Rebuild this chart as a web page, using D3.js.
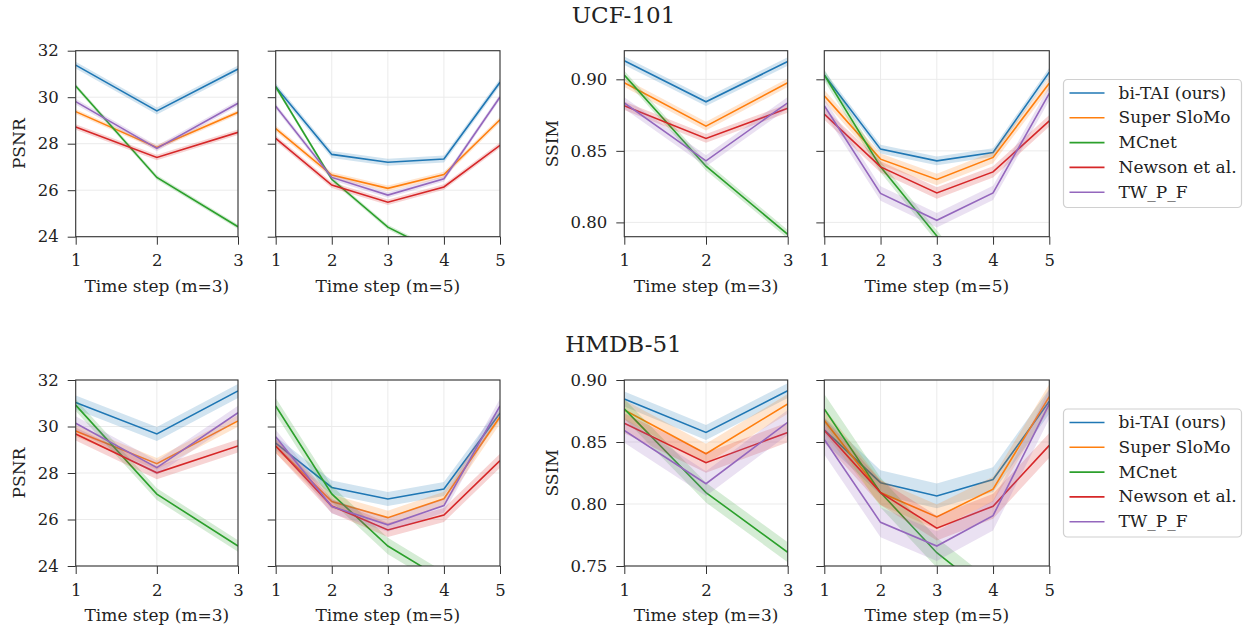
<!DOCTYPE html>
<html>
<head>
<meta charset="utf-8">
<script src="https://cdn.jsdelivr.net/npm/d3@7"></script>
<style>
    body { margin: 0; background: #fff; }
    svg { font-family: "DejaVu Serif", serif; }
    .grid line { stroke: #ebebeb; stroke-width: 1; }
    .axis path, .axis line { stroke: #333; }
    .axis text { font-size: 16.5px; fill: #222; font-family: "DejaVu Serif", serif; }
</style>
</head>
<body>
<svg id="main-svg" width="1247" height="630"></svg>
<script>
// series names and data
let methods = ["bi-TAI (ours)", "Super SloMo", "MCnet", "Newson et al.", "TW_P_F"];
let stepsM3 = [1, 2, 3];
let stepsM5 = [1, 2, 3, 4, 5];

let psnrTicks = [24, 26, 28, 30, 32];
let ucfSsimTicks = [0.80, 0.85, 0.90];
let hmdbSsimTicks = [0.75, 0.80, 0.85, 0.90];

// UCF-101
let ucfPsnrM3 = [
    [31.38, 29.41, 31.21],
    [29.38, 27.84, 29.35],
    [30.48, 26.55, 24.43],
    [28.72, 27.41, 28.49],
    [29.81, 27.80, 29.74]
];
let ucfPsnrM3Err = [0.15, 0.1, 0.1, 0.12, 0.12];

let ucfPsnrM5 = [
    [30.45, 27.54, 27.20, 27.34, 30.64],
    [28.65, 26.65, 26.08, 26.67, 29.03],
    [30.45, 26.47, 24.41, 23.20, 22.00],
    [28.23, 26.22, 25.48, 26.14, 27.93],
    [29.61, 26.55, 25.79, 26.49, 30.01]
];
let ucfPsnrM5Err = [0.15, 0.12, 0.1, 0.12, 0.12];

let ucfSsimM3 = [
    [0.9130, 0.8843, 0.9124],
    [0.8976, 0.8673, 0.8976],
    [0.9030, 0.8393, 0.7917],
    [0.8815, 0.8587, 0.8797],
    [0.8835, 0.8430, 0.8836]
];
let ucfSsimM3Err = [0.003, 0.003, 0.003, 0.003, 0.004];

let ucfSsimM5 = [
    [0.9030, 0.8512, 0.8430, 0.8489, 0.9050],
    [0.8885, 0.8442, 0.8300, 0.8454, 0.8972],
    [0.9030, 0.8388, 0.7905, 0.7420, 0.6900],
    [0.8757, 0.8388, 0.8206, 0.8353, 0.8710],
    [0.8815, 0.8202, 0.8015, 0.8206, 0.8902]
];
let ucfSsimM5Err = [0.003, 0.004, 0.004, 0.004, 0.005];

// HMDB-51
let hmdbPsnrM3 = [
    [31.03, 29.68, 31.53],
    [29.81, 28.40, 30.24],
    [30.92, 27.09, 24.86],
    [29.68, 28.01, 29.16],
    [30.14, 28.23, 30.59]
];
let hmdbPsnrM3Err = [0.3, 0.25, 0.25, 0.28, 0.3];

let hmdbPsnrM5 = [
    [29.28, 27.38, 26.88, 27.31, 30.57],
    [29.16, 26.77, 26.08, 26.89, 30.42],
    [30.88, 27.10, 24.86, 23.40, 22.00],
    [29.16, 26.58, 25.55, 26.19, 28.53],
    [29.56, 26.56, 25.77, 26.60, 30.89]
];
let hmdbPsnrM5Err = [0.3, 0.3, 0.35, 0.3, 0.3];

let hmdbSsimM3 = [
    [0.8847, 0.8577, 0.8914],
    [0.8759, 0.8405, 0.8807],
    [0.8767, 0.8092, 0.7611],
    [0.8651, 0.8333, 0.8577],
    [0.8593, 0.8164, 0.8659]
];
let hmdbSsimM3Err = [0.006, 0.008, 0.008, 0.008, 0.01];

let hmdbSsimM5 = [
    [0.8598, 0.8172, 0.8065, 0.8197, 0.8828],
    [0.8673, 0.8092, 0.7896, 0.8119, 0.8866],
    [0.8767, 0.8092, 0.7607, 0.7250, 0.6900],
    [0.8593, 0.8092, 0.7805, 0.7982, 0.8473],
    [0.8520, 0.7852, 0.7661, 0.7906, 0.8807]
];
let hmdbSsimM5Err = [0.01, 0.01, 0.012, 0.01, 0.012];

let colors = ["#1f77b4", "#ff7f0e", "#2ca02c", "#d62728", "#9467bd"];

class linePanel {

    constructor(svg, config){
        this.svg = svg;
        this.config = config;
        this.initVis();
    }

    initVis(){
        let vis = this;
        let c = vis.config;

        vis.width = c.right - c.left;
        vis.height = c.bottom - c.top;

        vis.g = vis.svg.append("g")
            .attr("transform", `translate(${c.left}, ${c.top})`);

        vis.xScale = d3.scaleLinear()
            .domain([c.steps[0], c.steps[c.steps.length - 1]])
            .range([0, vis.width]);
        vis.yScale = d3.scaleLinear()
            .domain(c.yDomain)
            .range([vis.height, 0]);

        // grid
        let grid = vis.g.append("g").attr("class", "grid");
        grid.selectAll(".gx")
            .data(c.steps)
            .enter().append("line")
            .attr("x1", d => vis.xScale(d)).attr("x2", d => vis.xScale(d))
            .attr("y1", 0).attr("y2", vis.height);
        grid.selectAll(".gy")
            .data(c.yTicks)
            .enter().append("line")
            .attr("x1", 0).attr("x2", vis.width)
            .attr("y1", d => vis.yScale(d)).attr("y2", d => vis.yScale(d));

        // clip
        vis.svg.append("clipPath")
            .attr("id", "clip-" + c.id)
            .append("rect")
            .attr("width", vis.width)
            .attr("height", vis.height);

        let plot = vis.g.append("g").attr("clip-path", `url(#clip-${c.id})`);

        let area = d3.area()
            .x(d => vis.xScale(d.x))
            .y0(d => vis.yScale(d.y - d.e))
            .y1(d => vis.yScale(d.y + d.e));
        let line = d3.line()
            .x(d => vis.xScale(d.x))
            .y(d => vis.yScale(d.y));

        c.values.forEach(function(row, i) {
            let pts = row.map((v, j) => ({x: c.steps[j], y: v, e: c.err[i]}));
            plot.append("path")
                .datum(pts)
                .attr("d", area)
                .attr("fill", colors[i])
                .attr("fill-opacity", 0.2);
            plot.append("path")
                .datum(pts)
                .attr("d", line)
                .attr("fill", "none")
                .attr("stroke", colors[i])
                .attr("stroke-width", 1.6);
        });

        // axes
        vis.xAxis = d3.axisBottom(vis.xScale)
            .tickValues(c.steps)
            .tickFormat(d3.format("d"))
            .tickSizeOuter(0)
            .tickSize(8)
            .tickPadding(10);
        vis.yAxis = d3.axisLeft(vis.yScale)
            .tickValues(c.yTicks)
            .tickFormat(c.showYLabels ? d3.format(c.yFormat) : "")
            .tickSizeOuter(0)
            .tickSize(8)
            .tickPadding(9);

        vis.g.append("g")
            .attr("class", "x-axis axis")
            .attr("transform", `translate(0, ${vis.height})`)
            .call(vis.xAxis);
        let yAxisG = vis.g.append("g")
            .attr("class", "y-axis axis")
            .call(vis.yAxis);
        vis.g.selectAll(".axis .domain").remove();

        // frame
        vis.g.append("rect")
            .attr("width", vis.width)
            .attr("height", vis.height)
            .attr("fill", "none")
            .attr("stroke", "#333")
            .attr("stroke-width", 1.1);

        vis.g.append("text")
            .text(c.xLabel)
            .attr("x", vis.width / 2)
            .attr("y", vis.height + 55)
            .attr("text-anchor", "middle")
            .attr("font-size", "17px")
            .attr("fill", "#222");

        if (c.yLabel) {
            // sit the label just left of the widest tick label
            let labelX = yAxisG.node().getBBox().x - 13;
            vis.g.append("text")
                .text(c.yLabel)
                .attr("transform", `translate(${labelX}, ${vis.height / 2}) rotate(-90)`)
                .attr("text-anchor", "middle")
                .attr("font-size", "17px")
                .attr("fill", "#222");
        }
    }
}

function drawLegend(svg, x, y) {
    let lg = svg.append("g").attr("transform", `translate(${x}, ${y})`);
    lg.append("rect")
        .attr("width", 178)
        .attr("height", 128)
        .attr("rx", 4)
        .attr("fill", "#fff")
        .attr("stroke", "#d0d0d0")
        .attr("stroke-width", 1.2);
    methods.forEach(function(m, i) {
        let cy = 13.5 + i * 24.8;
        lg.append("line")
            .attr("x1", 6).attr("x2", 41)
            .attr("y1", cy).attr("y2", cy)
            .attr("stroke", colors[i])
            .attr("stroke-width", 1.6);
        lg.append("text")
            .text(m)
            .attr("x", 55)
            .attr("y", cy + 5.5)
            .attr("font-size", "17px")
            .attr("fill", "#222");
    });
}

let svg = d3.select("#main-svg");

let lefts = [75.7, 275.7, 624.3, 824.3];
let rights = [238, 500, 787.7, 1049.3];
let tops = [50.7, 380];
let bottoms = [236.7, 566];

let panels = [
    {values: ucfPsnrM3, err: ucfPsnrM3Err, steps: stepsM3, yDomain: [24, 32], yTicks: psnrTicks, yFormat: "d", yLabel: "PSNR", showYLabels: true},
    {values: ucfPsnrM5, err: ucfPsnrM5Err, steps: stepsM5, yDomain: [24, 32], yTicks: psnrTicks, yFormat: "d", showYLabels: false},
    {values: ucfSsimM3, err: ucfSsimM3Err, steps: stepsM3, yDomain: [0.79, 0.92], yTicks: ucfSsimTicks, yFormat: ".2f", yLabel: "SSIM", showYLabels: true},
    {values: ucfSsimM5, err: ucfSsimM5Err, steps: stepsM5, yDomain: [0.79, 0.92], yTicks: ucfSsimTicks, yFormat: ".2f", showYLabels: false},
    {values: hmdbPsnrM3, err: hmdbPsnrM3Err, steps: stepsM3, yDomain: [24, 32], yTicks: psnrTicks, yFormat: "d", yLabel: "PSNR", showYLabels: true},
    {values: hmdbPsnrM5, err: hmdbPsnrM5Err, steps: stepsM5, yDomain: [24, 32], yTicks: psnrTicks, yFormat: "d", showYLabels: false},
    {values: hmdbSsimM3, err: hmdbSsimM3Err, steps: stepsM3, yDomain: [0.75, 0.90], yTicks: hmdbSsimTicks, yFormat: ".2f", yLabel: "SSIM", showYLabels: true},
    {values: hmdbSsimM5, err: hmdbSsimM5Err, steps: stepsM5, yDomain: [0.75, 0.90], yTicks: hmdbSsimTicks, yFormat: ".2f", showYLabels: false}
];

panels.forEach(function(p, i) {
    let row = Math.floor(i / 4);
    let col = i % 4;
    p.id = i;
    p.left = lefts[col];
    p.right = rights[col];
    p.top = tops[row];
    p.bottom = bottoms[row];
    p.xLabel = `Time step (m=${p.steps.length})`;
    new linePanel(svg, p);
});

// titles
svg.append("text").text("UCF-101")
    .attr("x", 623.5).attr("y", 23)
    .attr("text-anchor", "middle")
    .attr("font-size", "23px").attr("fill", "#222");
svg.append("text").text("HMDB-51")
    .attr("x", 623.5).attr("y", 352)
    .attr("text-anchor", "middle")
    .attr("font-size", "23px").attr("fill", "#222");

drawLegend(svg, 1063.5, 79.5);
drawLegend(svg, 1063.5, 409);
</script>
</body>
</html>
